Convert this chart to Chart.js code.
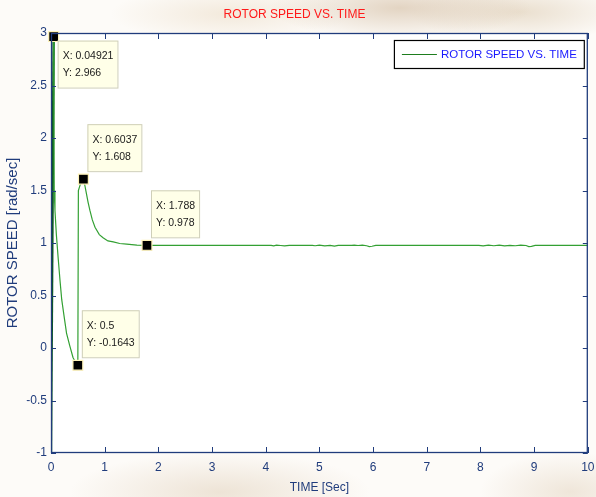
<!DOCTYPE html>
<html>
<head>
<meta charset="utf-8">
<title>Rotor speed vs. time</title>
<script src="https://cdn.jsdelivr.net/npm/chart.js@4.4.1/dist/chart.umd.min.js"></script>
<style>
html, body { margin: 0; padding: 0; }
body {
    width: 596px; height: 497px; overflow: hidden;
    background:
        radial-gradient(ellipse 130px 32px at 400px 8px, rgba(205,180,150,0.55), rgba(205,180,150,0)),
        radial-gradient(ellipse 110px 30px at 520px 12px, rgba(215,195,165,0.5), rgba(215,195,165,0)),
        radial-gradient(ellipse 120px 28px at 230px 14px, rgba(230,212,185,0.45), rgba(230,212,185,0)),
        radial-gradient(ellipse 150px 40px at 220px 492px, rgba(222,204,180,0.5), rgba(222,204,180,0)),
        radial-gradient(ellipse 90px 40px at 570px 492px, rgba(222,204,180,0.45), rgba(222,204,180,0)),
        #fdfbf8;
}
canvas { display: block; }
</style>
</head>
<body>
<canvas id="speedChart" width="596" height="497"></canvas>
<script>
// Courbe vitesse rotor
var time_sec = [0, 0.04921, 0.055, 0.06, 0.074, 0.1, 0.136, 0.17, 0.2, 0.25, 0.29, 0.35, 0.41, 0.46, 0.5,
    0.51, 0.56, 0.6037, 0.63, 0.66, 0.69, 0.725, 0.77, 0.82, 0.9, 0.97, 1.06, 1.16, 1.28, 1.41, 1.6, 1.788,
    2.4, 3.2, 4.1, 4.15, 4.2, 4.28, 4.35, 4.44, 4.87, 4.92, 5.0, 5.1, 5.2, 5.28, 5.35, 5.6, 5.65, 5.72,
    5.8, 5.88, 5.93, 5.98, 6.05, 7.0, 7.97, 8.05, 8.15, 8.25, 8.35, 8.45, 8.55, 8.65, 8.75, 8.85, 8.9,
    8.95, 9.02, 9.09, 9.6, 10];
var rotor_speed = [-1.0, 2.966, 2.2, 1.5, 1.31, 1.08, 0.84, 0.63, 0.46, 0.28, 0.14, 0.02, -0.09, -0.14, -0.1643,
    1.5, 1.58, 1.608, 1.55, 1.47, 1.39, 1.31, 1.22, 1.15, 1.08, 1.05, 1.02, 1.01, 0.995, 0.99, 0.98, 0.978,
    0.978, 0.978, 0.978, 0.973, 0.980, 0.976, 0.972, 0.978, 0.978, 0.974, 0.980, 0.973, 0.977, 0.970, 0.978, 0.978, 0.980, 0.976,
    0.979, 0.974, 0.966, 0.969, 0.978, 0.978, 0.978, 0.973, 0.980, 0.974, 0.979, 0.972, 0.978, 0.974, 0.980, 0.976, 0.966,
    0.968, 0.977, 0.978, 0.978, 0.978];

// Data tips
var tip_time = [0.04921, 0.6037, 1.788, 0.5];
var tip_speed = [2.966, 1.608, 0.978, -0.1643];

// Graduations
var x_ticks = [0, 1, 2, 3, 4, 5, 6, 7, 8, 9, 10];
var y_ticks = [-1, -0.5, 0, 0.5, 1, 1.5, 2, 2.5, 3];

var AXIS = '#203c7c';
var FONT = "'Liberation Sans', Arial, sans-serif";

function toPoints(xs, ys) {
    return xs.map(function (x, i) { return { x: x, y: ys[i] }; });
}

/* Fond blanc, cadre, graduations internes, legende et data tips */
var matlabLook = {
    id: 'matlabLook',
    beforeDraw: function (chart) {
        var a = chart.chartArea, ctx = chart.ctx;
        ctx.save();
        ctx.fillStyle = '#ffffff';
        ctx.fillRect(a.left, a.top, a.right - a.left, a.bottom - a.top);
        ctx.restore();
    },
    afterDatasetsDraw: function (chart) {
        var a = chart.chartArea, ctx = chart.ctx;
        var xs = chart.scales.x, ys = chart.scales.y;
        ctx.save();

        // Cadre + ticks
        ctx.strokeStyle = AXIS;
        ctx.lineWidth = 1.3;
        ctx.strokeRect(a.left + 0.5, a.top + 0.5, a.right - a.left - 1, a.bottom - a.top - 1);
        ctx.lineWidth = 1;
        ctx.beginPath();
        x_ticks.forEach(function (v) {
            var px = Math.round(xs.getPixelForValue(v)) + 0.5;
            ctx.moveTo(px, a.bottom); ctx.lineTo(px, a.bottom - 6);
            ctx.moveTo(px, a.top); ctx.lineTo(px, a.top + 6);
        });
        y_ticks.forEach(function (v) {
            var py = Math.round(ys.getPixelForValue(v)) + 0.5;
            ctx.moveTo(a.left, py); ctx.lineTo(a.left + 5, py);
            ctx.moveTo(a.right, py); ctx.lineTo(a.right - 5, py);
        });
        ctx.stroke();

        // Legende
        var label = chart.data.datasets[0].label;
        ctx.font = '11.5px ' + FONT;
        var lw = ctx.measureText(label).width + 54;
        var lx = a.right - 4 - lw, ly = a.top + 7, lh = 28;
        ctx.fillStyle = '#ffffff';
        ctx.fillRect(lx, ly, lw, lh);
        ctx.strokeStyle = '#000000';
        ctx.lineWidth = 1.2;
        ctx.strokeRect(lx + 0.5, ly + 0.5, lw, lh);
        ctx.strokeStyle = '#1e7d1e';
        ctx.lineWidth = 1.2;
        ctx.beginPath();
        ctx.moveTo(lx + 8, ly + 14.5); ctx.lineTo(lx + 43, ly + 14.5);
        ctx.stroke();
        ctx.fillStyle = '#1a1aff';
        ctx.textBaseline = 'middle';
        ctx.fillText(label, lx + 47, ly + 15);

        // Data tips
        ctx.font = '10.5px ' + FONT;
        tip_time.forEach(function (t, i) {
            var px = xs.getPixelForValue(t), py = ys.getPixelForValue(tip_speed[i]);
            var l1 = 'X: ' + t, l2 = 'Y: ' + tip_speed[i];
            var bw = Math.max(ctx.measureText(l1).width, ctx.measureText(l2).width) + 9;
            var bh = 47;
            var bx = px + 4;
            var by = (py - 55 < a.top) ? py + 4 : py - 55;
            ctx.fillStyle = '#ffffe8';
            ctx.fillRect(bx, by, bw, bh);
            ctx.strokeStyle = '#cfcfb8';
            ctx.lineWidth = 1;
            ctx.strokeRect(bx + 0.5, by + 0.5, bw, bh);
            ctx.fillStyle = '#1a1a1a';
            ctx.fillText(l1, bx + 5, by + 16);
            ctx.fillText(l2, bx + 5, by + 33);
        });
        ctx.restore();
    }
};

var ctx = document.getElementById('speedChart');
var speedChart = new Chart(ctx, {
    type: 'line',
    data: {
        datasets: [{
            label: 'ROTOR SPEED VS. TIME',
            data: toPoints(time_sec, rotor_speed),
            order: 1,
            borderColor: '#33a033',
            borderWidth: 1.2,
            pointRadius: 0,
            tension: 0,
            fill: false,
            segment: {
                borderColor: function (c) { return c.p0DataIndex === 0 ? '#0d5a20' : undefined; },
                borderWidth: function (c) { return c.p0DataIndex === 0 ? 2.4 : undefined; }
            }
        }, {
            label: 'tips',
            data: toPoints(tip_time, tip_speed),
            order: 0,
            clip: false,
            showLine: false,
            pointStyle: 'rect',
            pointRadius: 7,
            pointBackgroundColor: '#000000',
            pointBorderColor: '#fff3b8',
            pointBorderWidth: 1.2
        }]
    },
    options: {
        responsive: false,
        animation: false,
        devicePixelRatio: 1,
        layout: { padding: { left: 0, right: 7, top: 0, bottom: 0 } },
        scales: {
            x: {
                type: 'linear',
                min: 0,
                max: 10,
                afterBuildTicks: function (s) { s.ticks = x_ticks.map(function (v) { return { value: v }; }); },
                afterFit: function (s) { s.height = 44; s.paddingLeft = 0; s.paddingRight = 0; },
                grid: { display: false, drawTicks: false },
                border: { display: false },
                ticks: {
                    color: AXIS,
                    padding: 7,
                    maxRotation: 0,
                    font: { family: FONT, size: 12 }
                },
                title: {
                    display: true,
                    text: 'TIME [Sec]',
                    color: AXIS,
                    font: { family: FONT, size: 12 },
                    padding: { top: 0, bottom: 2 }
                }
            },
            y: {
                min: -1,
                max: 3,
                afterBuildTicks: function (s) { s.ticks = y_ticks.map(function (v) { return { value: v }; }); },
                afterFit: function (s) { s.width = 51; s.paddingTop = 0; s.paddingBottom = 0; },
                grid: { display: false, drawTicks: false },
                border: { display: false },
                ticks: {
                    color: AXIS,
                    padding: 4,
                    font: { family: FONT, size: 12 },
                    callback: function (v) { return String(v); }
                },
                title: {
                    display: true,
                    text: 'ROTOR SPEED [rad/sec]',
                    color: AXIS,
                    font: { family: FONT, size: 15 },
                    padding: { top: 4, bottom: 0 }
                }
            }
        },
        plugins: {
            legend: { display: false },
            tooltip: { enabled: false },
            title: {
                display: true,
                text: 'ROTOR SPEED VS. TIME',
                color: '#ff1a1a',
                font: { family: FONT, size: 12, weight: 'normal' },
                padding: { top: 7, bottom: 11.6 }
            }
        }
    },
    plugins: [matlabLook]
});
</script>
</body>
</html>
